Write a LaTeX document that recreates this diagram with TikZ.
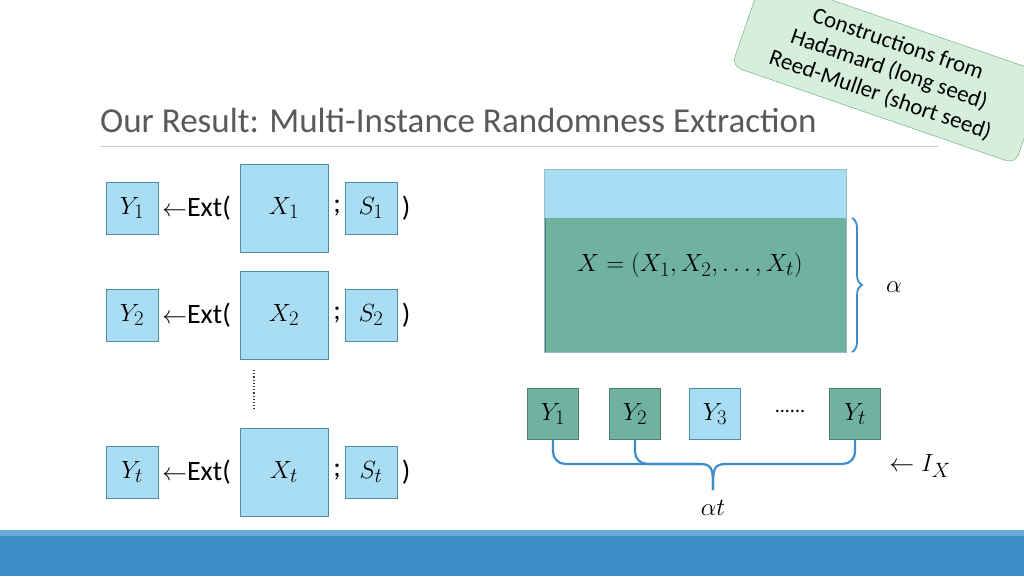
\documentclass[tikz,border=0pt]{standalone}
\usepackage{fontspec}
\setmainfont{Carlito}
\usetikzlibrary{decorations.pathreplacing}
\definecolor{lb}{HTML}{A9DDF3}
\definecolor{lbd}{HTML}{4E8DA8}
\definecolor{gr}{HTML}{70B2A0}
\definecolor{grd}{HTML}{4C7F6F}
\definecolor{brc}{HTML}{3C8DC8}
\definecolor{notef}{HTML}{D6EFDC}
\definecolor{noted}{HTML}{5FA86E}
\begin{document}
\begin{tikzpicture}[x=1pt,y=-1pt,
  bbox/.style={draw=lbd,fill=lb,line width=0.8pt,inner sep=0pt,font=\fontsize{30}{32}\selectfont},
  gbox/.style={draw=grd,fill=gr,line width=0.8pt,inner sep=0pt,font=\fontsize{30}{32}\selectfont},
  txt/.style={font=\fontsize{28}{30}\selectfont,inner sep=0pt}]
\useasboundingbox (0,0) rectangle (1024,576);
\fill[white] (0,0) rectangle (1024,576);
% bottom bar
\fill[brc!75] (0,530) rectangle (1024,536);
\fill[brc] (0,536) rectangle (1024,576);
% title
\node[anchor=base west,inner sep=0pt,text=black!65,font=\fontsize{35}{38}\selectfont] (title) at (100,132) {Our Result: Multi-Instance Randomness Extraction};
\draw[black!20,line width=1pt] (100,146) -- (938,146);
% note
\node[draw=noted,fill=notef,rounded corners=10pt,rotate=-19,align=center,minimum width=300pt,minimum height=95pt,inner sep=2pt,font=\fontsize{23}{27}\selectfont] (note) at (889,70) {Constructions from\\Hadamard (long seed)\\Reed-Muller (short seed)};
% left rows
\foreach \r/\yc/\sub in {1/208/1,2/315/2,3/472/t}{
  \node[bbox,minimum size=52pt] (Y\r) at (132,\yc) {$Y_{\sub}$};
  \node[txt,anchor=west] (E\r) at (162,\yc) {$\leftarrow$Ext(};
  \node[bbox,minimum size=88pt] (X\r) at (284,\yc) {$X_{\sub}$};
  \node[txt] (sc\r) at (337,\yc) {;};
  \node[bbox,minimum size=52pt] (S\r) at (371,\yc) {$S_{\sub}$};
  \node[txt] (cp\r) at (406,\yc) {)};
}
\draw[line width=2pt,dash pattern=on 1.2pt off 2pt,black!80] (254,370) -- (254,409);
% big box
\node[draw=grd,fill=gr,line width=0.8pt,minimum width=301pt,minimum height=182pt,inner sep=0pt] (big) at (695.5,261) {};
\fill[lb] (big.north west) rectangle ([yshift=-48pt]big.north east);
\draw[lbd!60,line width=0.8pt] (big.north west) rectangle (big.south east);
\node[txt] (Xeq) at (690,265) {$X=(X_1,X_2,\dots,X_t)$};
\draw[brc,line width=1.8pt,decorate,decoration={brace,amplitude=10pt}] (852,218) -- (852,352);
\node[txt] (alpha) at (894,287) {$\alpha$};
% Y row
\node[gbox,minimum size=51pt] (R1) at (553,414) {$Y_1$};
\node[gbox,minimum size=51pt] (R2) at (635,414) {$Y_2$};
\node[bbox,minimum size=51pt] (R3) at (715,414) {$Y_3$};
\node[txt,font=\fontsize{20}{22}\selectfont] (dots) at (790,411) {......};
\node[gbox,minimum size=51pt] (Rt) at (855,414) {$Y_t$};
\coordinate (tip) at (713,490);
\draw[brc,line width=2.2pt,rounded corners=12pt] (R1.south) -- ++(0,24) -- (700,464) coordinate (ml);
\draw[brc,line width=2.2pt,rounded corners=12pt] (R2.south) -- ++(0,24) -- (700,464);
\draw[brc,line width=2.2pt,rounded corners=12pt] (Rt.south) -- ++(0,24) -- (726,464);
\draw[brc,line width=2.2pt] (700,464) .. controls (713,464) and (713,470) .. (tip);
\draw[brc,line width=2.2pt] (726,464) .. controls (713,464) and (713,470) .. (tip);
\node[txt] (at) at (713,508) {$\alpha t$};
\node[txt] (IX) at (920,466) {$\leftarrow I_X$};
\end{tikzpicture}
\end{document}
